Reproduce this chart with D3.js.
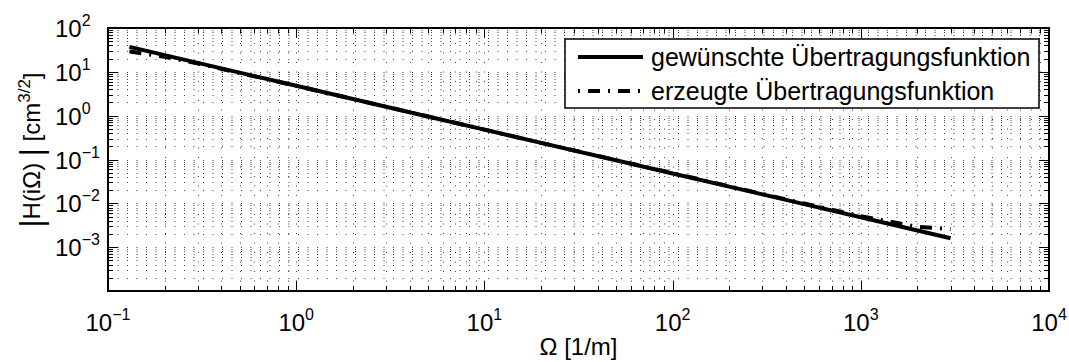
<!DOCTYPE html>
<html>
<head>
<meta charset="utf-8">
<script src="https://cdn.jsdelivr.net/npm/d3@7"></script>
<style>
  html, body { margin: 0; padding: 0; background: #fff; }
  svg { display: block; font-family: "Liberation Sans", Arial, Helvetica, sans-serif; }
</style>
</head>
<body>
<svg id="chart" width="1069" height="362"></svg>
<script>
// Frequency points Ω [1/m]
const omega = [0.13, 0.2, 0.3, 0.5, 1, 2, 5, 10, 20, 50, 100, 200, 500, 1000, 2000, 3000];
// desired transfer function |H(iΩ)|
const hDesired = [37, 24, 16, 9.6, 4.8, 2.4, 0.96, 0.48, 0.24, 0.096, 0.048, 0.024, 0.0096, 0.0048, 0.0024, 0.0016];
// generated transfer function |H(iΩ)|
const hGenerated = [29, 22, 15.5, 9.4, 4.8, 2.4, 0.96, 0.48, 0.24, 0.097, 0.049, 0.0245, 0.0099, 0.0051, 0.0029, 0.0026];

const xTickExps = [-1, 0, 1, 2, 3, 4];
const yTickExps = [-3, -2, -1, 0, 1, 2];
const legendLabels = ["gewünschte Übertragungsfunktion", "erzeugte Übertragungsfunktion"];

const svg = d3.select("#chart");
const L = 108, R = 1049, T = 28, B = 291;

const x = d3.scaleLog().domain([0.1, 1e4]).range([L, R]);
const y = d3.scaleLog().domain([1e-4, 1e2]).range([B, T]);

// all log ticks (majors + minors 2..9)
function logTicks(lo, hi) {
  const out = [];
  for (let e = lo; e < hi; e++) {
    for (let m = 1; m <= 9; m++) out.push({ v: m * Math.pow(10, e), major: m === 1 });
  }
  out.push({ v: Math.pow(10, hi), major: true });
  return out;
}
const xt = logTicks(-1, 4);
const yt = logTicks(-4, 2);

// dotted grid
const grid = svg.append("g").attr("stroke", "#000").attr("stroke-width", 1).attr("fill", "none");
xt.filter(d => d.v > 0.1 * 1.0001 && d.v < 1e4 * 0.9999).forEach(d => {
  const px = Math.round(x(d.v)) + 0.5;
  grid.append("line").attr("x1", px).attr("x2", px).attr("y1", B).attr("y2", T)
    .attr("stroke-dasharray", "1,8.5").attr("stroke-opacity", 0.75);
});
yt.filter(d => d.v > 1e-4 * 1.0001 && d.v < 1e2 * 0.9999).forEach(d => {
  const py = Math.round(y(d.v)) + 0.5;
  grid.append("line").attr("x1", L).attr("x2", R).attr("y1", py).attr("y2", py)
    .attr("stroke-dasharray", "1,8.5").attr("stroke-opacity", 0.75);
});

// tick marks on all four sides, pointing inward
const ticks = svg.append("g").attr("stroke", "#000").attr("stroke-width", 1);
xt.forEach(d => {
  const px = Math.round(x(d.v)) + 0.5;
  const len = d.major ? 10 : 5;
  ticks.append("line").attr("x1", px).attr("x2", px).attr("y1", B).attr("y2", B - len);
  ticks.append("line").attr("x1", px).attr("x2", px).attr("y1", T).attr("y2", T + len);
});
yt.forEach(d => {
  const py = Math.round(y(d.v)) + 0.5;
  const len = d.major ? 10 : 5;
  ticks.append("line").attr("x1", L).attr("x2", L + len).attr("y1", py).attr("y2", py);
  ticks.append("line").attr("x1", R).attr("x2", R - len).attr("y1", py).attr("y2", py);
});

// curves
const line = d3.line().x((d, i) => x(omega[i])).y(d => y(d));
svg.append("path").datum(hDesired).attr("d", line)
  .attr("fill", "none").attr("stroke", "#000").attr("stroke-width", 4);
svg.append("path").datum(hGenerated).attr("d", line)
  .attr("fill", "none").attr("stroke", "#000").attr("stroke-width", 4)
  .attr("stroke-dasharray", "12,8,2,8");

// axes box
svg.append("rect").attr("x", L).attr("y", T).attr("width", R - L).attr("height", B - T)
  .attr("fill", "none").attr("stroke", "#000").attr("stroke-width", 2);

// tick labels
const fmtExp = e => (e < 0 ? "\u2212" + (-e) : String(e));
xTickExps.forEach(e => {
  const t = svg.append("text").attr("x", x(Math.pow(10, e))).attr("y", 331)
    .attr("text-anchor", "middle").attr("font-size", 24);
  t.append("tspan").text("10");
  t.append("tspan").attr("dy", -11).attr("font-size", 16).text(fmtExp(e));
});
yTickExps.forEach(e => {
  const t = svg.append("text").attr("x", 55).attr("y", y(Math.pow(10, e)) + 9)
    .attr("text-anchor", "start").attr("font-size", 24);
  t.append("tspan").text("10");
  t.append("tspan").attr("dy", -11).attr("font-size", 16).text(fmtExp(e));
});

// axis labels
svg.append("text").attr("x", (L + R) / 2).attr("y", 355).attr("text-anchor", "middle")
  .attr("font-size", 24).text("\u03A9 [1/m]");

// y label with enlarged magnitude bars
const yl = svg.append("text").attr("transform", `translate(40,150) rotate(-90)`)
  .attr("text-anchor", "middle").attr("font-size", 24);
yl.append("tspan").attr("font-size", 31).attr("dy", 2).text("|");
yl.append("tspan").attr("dy", -2).text("H(i\u03A9) ");
yl.append("tspan").attr("font-size", 31).attr("dy", 2).text("|");
yl.append("tspan").attr("dy", -2).text(" [cm");
yl.append("tspan").attr("dy", -10).attr("font-size", 17).text("3/2");
yl.append("tspan").attr("dy", 10).text("]");

// legend
const lg = svg.append("g");
lg.append("rect").attr("x", 565).attr("y", 39).attr("width", 474).attr("height", 69)
  .attr("fill", "#fff").attr("stroke", "#000").attr("stroke-width", 1.5);
const rows = [57, 91];
legendLabels.forEach((lab, i) => {
  lg.append("line").attr("x1", 578).attr("x2", 643).attr("y1", rows[i]).attr("y2", rows[i])
    .attr("stroke", "#000").attr("stroke-width", 4)
    .attr("stroke-dasharray", i === 1 ? "2,8,12,8" : null);
  lg.append("text").attr("x", 651).attr("y", rows[i] + 9).attr("font-size", 25).text(lab);
});
</script>
</body>
</html>
